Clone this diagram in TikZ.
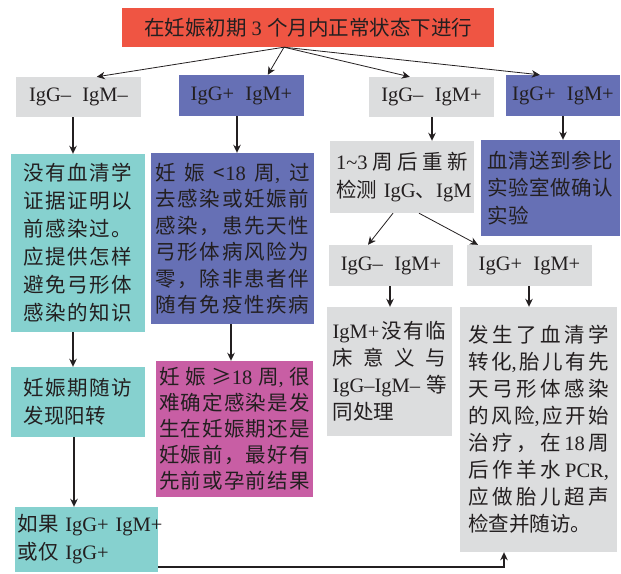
\documentclass[tikz,border=0pt]{standalone}
\usepackage{fontspec}
\setmainfont{Noto Sans CJK SC}
\newfontfamily\latf{Liberation Serif}
\newcommand\lt[1]{{\latf #1}}
\usetikzlibrary{arrows.meta}
\setlength{\parindent}{0pt}
\ExplSyntaxOn
\NewDocumentCommand\jl{m}{\makebox[\hsize][s]{\tl_map_inline:nn{#1}{##1\hfil}\unskip}}
\ExplSyntaxOff
\definecolor{cred}{HTML}{EF5543}
\definecolor{cgray}{HTML}{DCDDDE}
\definecolor{cblue}{HTML}{6670B5}
\definecolor{ccyan}{HTML}{86D1CF}
\definecolor{cmag}{HTML}{C85EA4}
\definecolor{txt}{HTML}{231F20}
\tikzset{
  box/.style={rectangle, inner sep=0pt, anchor=center, text=txt, font=\fontsize{20.5}{27}\selectfont},
  para/.style={align=left, text width=#1},
  arr/.style={draw=txt, line width=1.4pt, -{Stealth[length=8pt,width=7.5pt,inset=2.5pt]}},
  darr/.style={draw=txt, line width=0.8pt, -{Stealth[length=8pt,width=7.5pt,inset=2.5pt]}},
  lab/.style={font=\fontsize{20.5}{24}\selectfont\latf}
}
\begin{document}
\begin{tikzpicture}[x=1pt,y=-1pt]
\useasboundingbox (0,0) rectangle (621,573);
% top
\node[box, fill=cred, minimum width=372pt, minimum height=39pt] (top) at (308,27.5) {在妊娠初期\lt{ 3 }个月内正常状态下进行};
% row 1
\node[box, lab, fill=cgray, minimum width=125pt, minimum height=40pt] (a1) at (78.5,97) {IgG–\hspace{0.55em}IgM–};
\node[box, lab, fill=cblue, minimum width=125pt, minimum height=41pt] (b1) at (241.5,95.5) {IgG+\hspace{0.55em}IgM+};
\node[box, lab, fill=cgray, minimum width=125pt, minimum height=40pt] (c1) at (431.5,97) {IgG–\hspace{0.55em}IgM+};
\node[box, lab, fill=cblue, minimum width=114pt, minimum height=41pt] (d1) at (563,95.5) {IgG+\hspace{0.55em}IgM+};
% row 2
\node[box, para=109pt, fill=ccyan, minimum width=134pt, minimum height=178pt, font=\fontsize{20.5}{28}\selectfont] (a2) at (78,243)
 {\jl{没有血清学}\\\jl{证据证明以}\\\jl{前感染过。}\\\jl{应提供怎样}\\\jl{避免弓形体}\\\jl{感染的知识}};
\node[box, para=154pt, fill=cblue, minimum width=163pt, minimum height=171pt, font=\fontsize{20.5}{26.5}\selectfont] (b2) at (232.5,238.5)
 {\jl{妊娠{<\lt{18}}{周\lt{,}}过}\\\jl{去感染或妊娠前}\\\jl{感染，患先天性}\\\jl{弓形体病风险为}\\\jl{零，除非患者伴}\\\jl{随有免疫性疾病}};
\node[box, para=132pt, fill=cgray, minimum width=144pt, minimum height=72pt, font=\fontsize{20.5}{28}\selectfont] (c2) at (402,177)
 {\jl{{\lt{1\textasciitilde3}}周后重新}\\\mbox{检测\lt{ IgG}、\lt{IgM}}};
\node[box, para=126pt, fill=cblue, minimum width=139pt, minimum height=96pt, font=\fontsize{20.5}{27.5}\selectfont] (d2) at (550.5,188)
 {\jl{血清送到参比}\\\jl{实验室做确认}\\实验};
% row 3
\node[box, para=109pt, fill=ccyan, minimum width=134pt, minimum height=70pt, font=\fontsize{20.5}{28}\selectfont] (a3) at (78,402)
 {\jl{妊娠期随访}\\发现阳转};
\node[box, para=151pt, fill=cmag, minimum width=157pt, minimum height=136pt, font=\fontsize{20.5}{26}\selectfont] (b3) at (234.5,429)
 {\jl{妊娠{≥\lt{18}}{周\lt{,}}很}\\\jl{难确定感染是发}\\\jl{生在妊娠期还是}\\\jl{妊娠前，最好有}\\\jl{先前或孕前结果}};
\node[box, lab, fill=cgray, minimum width=124pt, minimum height=41pt] (c3) at (391,265.5) {IgG–\hspace{0.55em}IgM+};
\node[box, lab, fill=cgray, minimum width=125pt, minimum height=41pt] (d3) at (529.5,265.5) {IgG+\hspace{0.55em}IgM+};
\node[box, para=114pt, fill=cgray, minimum width=125pt, minimum height=129pt, font=\fontsize{20.5}{27}\selectfont] (c4) at (389.5,371.5)
 {\jl{{\lt{IgM+}}没有临}\\\jl{床意义与}\\\jl{{\lt{IgG–IgM–}}等}\\同处理};
\node[box, para=141pt, fill=cgray, minimum width=157pt, minimum height=245pt, font=\fontsize{20.5}{27}\selectfont] (d4) at (538.5,429.5)
 {\jl{发生了血清学}\\\jl{转{化\lt{,}}胎儿有先}\\\jl{天弓形体感染}\\\jl{的风{险\lt{,}}应开始}\\\jl{治疗，在{\lt{18}}周}\\\jl{后作羊水{\lt{PCR,}}}\\\jl{应做胎儿超声}\\检查并随访。};
\node[box, para=138pt, fill=ccyan, minimum width=143pt, minimum height=65pt, font=\fontsize{20.5}{28}\selectfont] (a4) at (86.5,539.5)
 {\mbox{如果\lt{ IgG+ IgM+}}\\或仅\lt{ IgG+}};
% helper coordinates
\coordinate (apex) at ([xshift=-24pt]top.south);
\coordinate (x73) at (73,0);
\coordinate (x237) at (237,0);
\coordinate (x432) at (432,0);
\coordinate (x563) at (563,0);
\coordinate (x231) at (231,0);
\coordinate (x74) at (74,0);
\coordinate (x390) at (390,0);
\coordinate (x529) at (529,0);
\coordinate (x393) at (393,0);
\coordinate (x368) at (368,0);
\coordinate (x419) at (419,0);
\coordinate (x478) at (478,0);
\coordinate (x504) at (504,0);
\coordinate (y567) at (0,567);
% connectors from top
\draw[darr] (apex) -- ([xshift=81pt]a1.north west);
\draw[darr] (apex) -- ([xshift=89pt]b1.north west);
\draw[darr] (apex) -- ([xshift=41pt]c1.north west);
\draw[darr] (apex) -- ([xshift=34pt]d1.north west);
% vertical connectors
\draw[arr] (x73 |- a1.south) -- (x73 |- a2.north);
\draw[arr] (x237 |- b1.south) -- (x237 |- b2.north);
\draw[arr] (x432 |- c1.south) -- (x432 |- c2.north);
\draw[arr] (x563 |- d1.south) -- (x563 |- d2.north);
\draw[arr] (x73 |- a2.south) -- (x73 |- a3.north);
\draw[arr] (x231 |- b2.south) -- (x231 |- b3.north);
\draw[arr] (x74 |- a3.south) -- (x74 |- a4.north);
\draw[darr] (x393 |- c2.south) -- (x368 |- c3.north);
\draw[darr] (x419 |- c2.south) -- (x478 |- d3.north);
\draw[arr] (x390 |- c3.south) -- (x390 |- c4.north);
\draw[arr] (x529 |- d3.south) -- (x529 |- d4.north);
\draw[arr] (a4.east |- y567) -- (x504 |- y567) -- (x504 |- d4.south);
\end{tikzpicture}
\end{document}
